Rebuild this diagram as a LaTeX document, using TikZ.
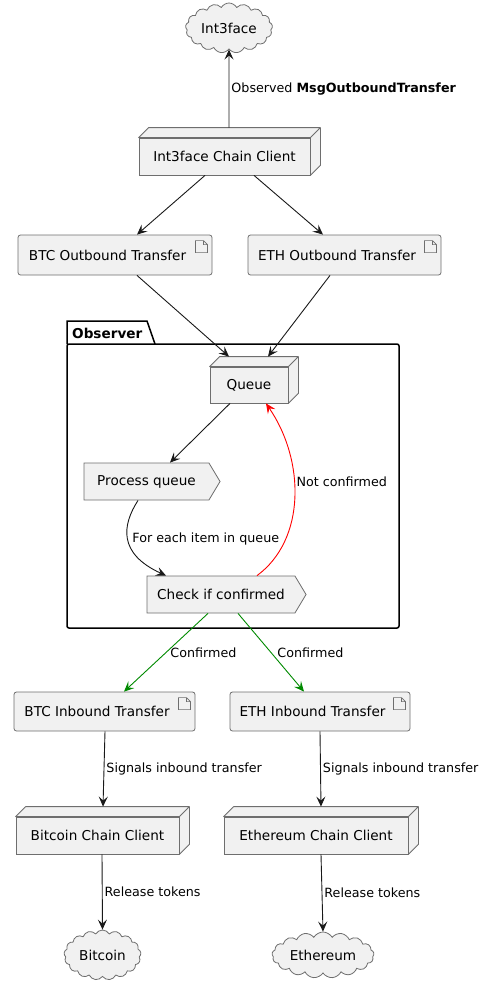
\documentclass[tikz,border=0pt]{standalone}
\usepackage{fontspec}
\setmainfont{DejaVu Sans}
\usetikzlibrary{arrows.meta,shapes.symbols}

\definecolor{boxfill}{HTML}{F1F1F1}
\definecolor{boxline}{HTML}{6E6E6E}
\definecolor{okgreen}{HTML}{008A00}
\newcommand{\boxfont}{\fontsize{13.6}{16}\selectfont}
\newcommand{\edgefont}{\fontsize{12.7}{15}\selectfont}

\tikzset{
  nodebox/.style={draw=boxline, line width=0.8pt, fill=boxfill, minimum height=37pt, inner sep=0pt, font=\boxfont},
  artifact/.style={nodebox, rounded corners=2.5pt, minimum height=40pt, execute at end node=\hspace{15pt}},
  procbox/.style={nodebox, signal, signal to=east, signal pointer angle=118},
  cloudnode/.style={cloud, cloud puffs=17, cloud puff arc=120, cloud ignores aspect,
    draw=boxline, line width=0.8pt, fill=boxfill, inner sep=0pt, font=\boxfont},
  arr/.style={-{Stealth[length=10pt,width=9pt,inset=4pt]}, line width=0.9pt, black!90},
  lbl/.style={font=\edgefont, inner sep=2pt, right, black}
}

\begin{document}
\begin{tikzpicture}[x=1pt, y=-1pt]
  \useasboundingbox (0,0) rectangle (483,991);

  % clouds
  \node[cloudnode, minimum width=87pt, minimum height=50pt] (int3face) at (229,28) {Int3face};
  \node[cloudnode, minimum width=77pt, minimum height=50pt] (bitcoin) at (102.5,955) {Bitcoin};
  \node[cloudnode, minimum width=102pt, minimum height=46pt] (ethereum) at (323,955) {Ethereum};

  % chain clients
  \node[nodebox, minimum width=171pt] (client) at (224.5,156.5) {Int3face Chain Client};
  \node[nodebox, minimum width=163pt] (btcclient) at (97.5,835.5) {Bitcoin Chain Client};
  \node[nodebox, minimum width=184pt] (ethclient) at (316,835.5) {Ethereum Chain Client};

  % transfers
  \node[artifact, minimum width=194pt] (btcout) at (115,255) {BTC Outbound Transfer};
  \node[artifact, minimum width=193pt] (ethout) at (344.5,255) {ETH Outbound Transfer};
  \node[artifact, minimum width=181pt, minimum height=39pt] (btcin) at (104.5,711.5) {BTC Inbound Transfer};
  \node[artifact, minimum width=180pt, minimum height=39pt] (ethin) at (320,711.5) {ETH Inbound Transfer};

  % observer package
  \draw[line width=1.5pt] (67,344) -- (67,321) -- (147,321) -- (155,344);
  \draw[line width=1.5pt, rounded corners=2pt] (67,344) rectangle (399,628);
  \node[font=\boxfont\bfseries, anchor=west, inner sep=0pt] (obslabel) at (72,333) {Observer};

  \node[nodebox, minimum width=78pt, minimum height=36pt] (queue) at (249,385) {Queue};
  \node[procbox, minimum width=136pt] (process) at (146.5,481.5) {Process queue};
  \node[procbox, minimum width=159pt] (check) at (221,594.5) {Check if confirmed};

  % 3d sides
  \foreach \n in {client,queue,btcclient,ethclient}
    \draw[boxline, line width=0.8pt, fill=boxfill, line join=round] (\n.north west) -- ++(10pt,10pt)
      -- ([shift={(10pt,10pt)}]\n.north east) -- ([shift={(10pt,10pt)}]\n.south east)
      -- (\n.south east) -- (\n.north east) -- cycle
      (\n.north east) -- ++(10pt,10pt);

  % document icons
  \foreach \n in {btcout,ethout,btcin,ethin}
    \draw[boxline, line width=0.7pt] ([shift={(-17pt,-6pt)}]\n.north east) -- ++(8pt,0) -- ++(4pt,-4pt)
      -- ++(0,-8pt) -- ++(-12pt,0) -- cycle
      ([shift={(-9pt,-6pt)}]\n.north east) -- ++(0,-4pt) -- ++(4pt,0);

  % connectors
  \draw[arr] ([xshift=4.5pt,yshift=10pt]client.north) -- (int3face.south)
    node[lbl, midway] {Observed \textbf{MsgOutboundTransfer}};
  \draw[arr] ([xshift=-19.5pt]client.south) -- ([xshift=22pt]btcout.north);
  \draw[arr] ([xshift=29.5pt]client.south) -- ([xshift=-21.5pt]ethout.north);
  \draw[arr] ([xshift=22pt]btcout.south) -- ([xshift=-20pt,yshift=10pt]queue.north);
  \draw[arr] ([xshift=-14.5pt]ethout.south) -- ([xshift=19pt,yshift=10pt]queue.north);
  \draw[arr] ([xshift=-19pt]queue.south) -- ([xshift=23.5pt]process.north);
  \draw[arr] ([xshift=-8.5pt]process.south) .. controls +(-16,25) and +(-48,-22)
    .. node[lbl, pos=0.5, xshift=2pt] {For each item in queue} ([xshift=-55pt]check.north);
  \draw[arr, red] ([xshift=36pt]check.north) .. controls +(49,-36) and +(39,57)
    .. node[lbl, pos=0.58] {Not confirmed} ([xshift=17pt]queue.south);
  \draw[arr, okgreen] ([xshift=-13pt]check.south) -- ([xshift=19.5pt]btcin.north)
    node[lbl, midway, xshift=2pt] {Confirmed};
  \draw[arr, okgreen] ([xshift=17pt]check.south) -- ([xshift=-16pt]ethin.north)
    node[lbl, midway, xshift=4pt] {Confirmed};
  \draw[arr] ([xshift=0.5pt]btcin.south) -- ([xshift=5.5pt,yshift=10pt]btcclient.north)
    node[lbl, midway] {Signals inbound transfer};
  \draw[arr] (ethin.south) -- ([xshift=5pt,yshift=10pt]ethclient.north)
    node[lbl, midway] {Signals inbound transfer};
  \draw[arr] ([xshift=4.5pt]btcclient.south) -- (bitcoin.north)
    node[lbl, midway] {Release tokens};
  \draw[arr] ([xshift=5pt]ethclient.south) -- (ethereum.north)
    node[lbl, midway] {Release tokens};
\end{tikzpicture}
\end{document}
